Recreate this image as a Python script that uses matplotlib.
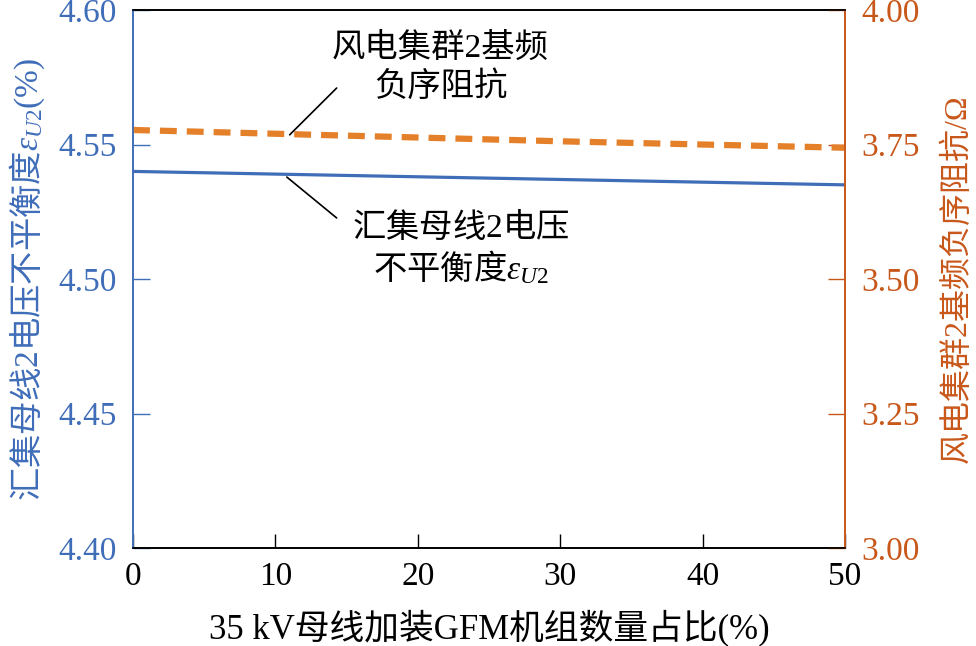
import numpy as np
import matplotlib.pyplot as plt

plt.rcParams['font.family'] = ['Liberation Serif', 'Noto Sans CJK SC']
plt.rcParams['mathtext.fontset'] = 'custom'
plt.rcParams['mathtext.rm'] = 'Noto Sans CJK SC'
plt.rcParams['mathtext.sf'] = 'Liberation Serif'
plt.rcParams['mathtext.it'] = 'Liberation Serif:italic'
plt.rcParams['font.size'] = 24

# GFM share on the 35 kV bus (%)
gfm_share = [0, 10, 20, 30, 40, 50]
# voltage unbalance of collector bus 2 (%)
unbalance = [4.5400, 4.5390, 4.5380, 4.5370, 4.5360, 4.5350]
# fundamental negative-sequence impedance of wind cluster 2 (ohm)
neg_seq_z = [3.777, 3.770, 3.763, 3.756, 3.750, 3.744]

blue = '#3F6DB8'
orange = '#E5802A'
orange_dark = '#C8571A'

fig = plt.figure(figsize=(9.76, 6.46), dpi=100)
ax = fig.add_axes([0.1363, 0.1517, 0.7295, 0.8328])
ax2 = ax.twinx()

ax.plot(gfm_share, unbalance, color=blue, lw=2.3)
ax2.plot(gfm_share, neg_seq_z, color=orange, lw=4.5, ls=(0, (2.7, 1.6)))

ax.set_xlim(0, 50)
ax.set_ylim(4.40, 4.60)
ax2.set_ylim(3.00, 4.00)
ax.set_xticks(np.arange(0, 51, 10))
ax.set_yticks([4.40, 4.45, 4.50, 4.55, 4.60])
ax.set_yticklabels(['4.40', '4.45', '4.50', '4.55', '4.60'])
ax2.set_yticks([3.00, 3.25, 3.50, 3.75, 4.00])
ax2.set_yticklabels(['3.00', '3.25', '3.50', '3.75', '4.00'])

ax.tick_params(axis='x', direction='in', length=10, width=1, pad=10, colors='black')
ax.tick_params(axis='y', direction='in', length=12, width=1, pad=12, colors=blue)
ax2.tick_params(axis='y', direction='in', length=12, width=1, pad=12, colors=orange_dark)

for a in (ax, ax2):
    a.spines['left'].set_color(blue)
    a.spines['right'].set_color(orange_dark)
    a.spines['top'].set_color('black')
    a.spines['bottom'].set_color('black')
    for s in a.spines.values():
        s.set_linewidth(1.2)

ax.set_xlabel('35 kV母线加装GFM机组数量占比(%)', fontsize=25, labelpad=12)
ax.set_ylabel(r'$\mathrm{汇集母线}\mathsf{2}\mathrm{电压不平衡度}\mathit{\varepsilon}_{\mathit{U}\mathsf{2}}\mathsf{(\%)}$',
              color=blue, labelpad=8)
ax2.set_ylabel('风电集群2基频负序阻抗/Ω', color=orange_dark, fontsize=23, labelpad=16)

# leader lines
ax2.annotate('', xy=(11.0, 3.768), xytext=(14.3, 3.855),
             arrowprops=dict(arrowstyle='-', color='black', lw=1.2, shrinkA=0, shrinkB=0))
ax.annotate('', xy=(10.8, 4.5379), xytext=(14.3, 4.5227),
            arrowprops=dict(arrowstyle='-', color='black', lw=1.2, shrinkA=0, shrinkB=0))

ax2.text(21.6, 3.893, '风电集群2基频\n负序阻抗', ha='center', va='center', linespacing=1.3)
ax.text(23.0, 4.5195, r'$\mathrm{汇集母线}\mathsf{2}\mathrm{电压}$', ha='center', va='center')
ax.text(23.0, 4.5045, r'$\mathrm{不平衡度}\mathit{\varepsilon}_{\mathit{U}\mathsf{2}}$', ha='center', va='center')

fig.savefig('out.png', dpi=100)
